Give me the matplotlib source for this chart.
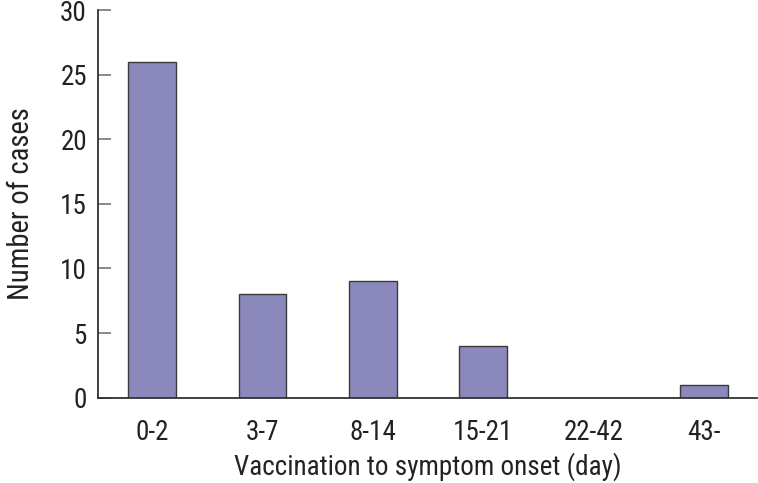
import matplotlib
matplotlib.use("Agg")
import matplotlib.pyplot as plt
from matplotlib import font_manager as fm

categories = ["0-2", "3-7", "8-14", "15-21", "22-42", "43-"]
cases = [26, 8, 9, 4, 0, 1]
yticks = [0, 5, 10, 15, 20, 25, 30]

names = {f.name for f in fm.fontManager.ttflist}
prefs = ["Roboto Condensed", "Liberation Sans Narrow", "Archivo Narrow",
         "Open Sans Condensed", "IBM Plex Sans Condensed", "Fira Sans Condensed"]
fam = next((p for p in prefs if p in names), None)
if fam is None:
    fam = "DejaVu Sans"
    plt.rcParams["font.stretch"] = "condensed"
plt.rcParams["font.family"] = [fam, "DejaVu Sans"]

fig = plt.figure(figsize=(7.58, 4.83), dpi=100)
ax = fig.add_axes([98/758, (483-397.7)/483, (757-98)/758, 387.7/483])

x = list(range(len(categories)))
ax.bar(x, cases, width=0.43, color="#8b89bc", edgecolor="#3a3a3a", linewidth=1.0, zorder=2)

ax.set_xlim(-0.489, 5.48)
ax.set_ylim(0, 30)
ax.set_yticks(yticks)
ax.set_xticks(x)
ax.set_xticklabels(categories)
ax.tick_params(axis="y", direction="in", length=9, width=1.2, color="#777777",
               labelsize=19.5, pad=8, labelcolor="#222222")
ax.tick_params(axis="x", length=0, labelsize=19.5, pad=15, labelcolor="#222222")
for s in ["top", "right"]:
    ax.spines[s].set_visible(False)
for s in ["left", "bottom"]:
    ax.spines[s].set_color("#333333")
    ax.spines[s].set_linewidth(1.3)
ax.set_xlabel("Vaccination to symptom onset (day)", fontsize=19.5, color="#222222", labelpad=5)
ax.set_ylabel("Number of cases", fontsize=20.6, color="#222222", labelpad=18)

fig.savefig("out.png", dpi=100)
